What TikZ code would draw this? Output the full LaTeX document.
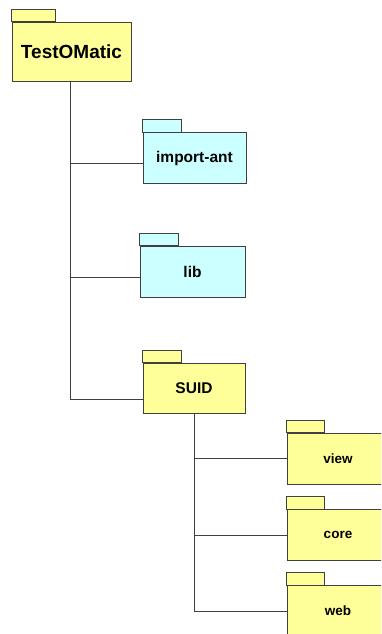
\documentclass[tikz,border=0pt]{standalone}
\usepackage{fontspec}
\setmainfont{Liberation Sans}
\usepackage{tikz}

\definecolor{pkgyellow}{HTML}{FFFF99}
\definecolor{pkgcyan}{HTML}{CCFFFF}
\definecolor{linegray}{HTML}{404040}

\tikzset{
  pkgbody/.style={draw=linegray, line width=0.9pt, inner sep=0pt, font=\bfseries},
  yellowpkg/.style={pkgbody, fill=pkgyellow},
  cyanpkg/.style={pkgbody, fill=pkgcyan},
  tree/.style={draw=linegray, line width=0.8pt}
}
% tab on top of a package body: node, width, fill
\newcommand{\pkgtab}[3]{\draw[draw=linegray, line width=0.9pt, fill=#3] (#1.north west) rectangle ++(#2,-12.5);}

\begin{document}
\begin{tikzpicture}[x=1pt, y=-1pt]
\clip (0,0) rectangle (381,634);
\fill[white] (0,0) rectangle (381,634);

% Root package
\node[yellowpkg, minimum width=119, minimum height=59, font=\bfseries\fontsize{19}{21}\selectfont] (top) at (71.5,51.5) {TestOMatic};
\pkgtab{top}{44}{pkgyellow}

% First level
\node[cyanpkg, minimum width=103, minimum height=51, font=\bfseries\fontsize{15.5}{18}\selectfont] (imp) at (194.5,158) {import-ant};
\pkgtab{imp}{39}{pkgcyan}
\node[cyanpkg, minimum width=105, minimum height=51, font=\bfseries\fontsize{15.5}{18}\selectfont] (lib) at (192.5,271.5) {lib};
\pkgtab{lib}{39}{pkgcyan}
\node[yellowpkg, minimum width=102, minimum height=50, font=\bfseries\fontsize{15.5}{18}\selectfont] (suid) at (194,388) {SUID};
\pkgtab{suid}{39}{pkgyellow}

% Second level
\foreach \name/\y in {view/458.5, core/535, web/611}
{
  \node[yellowpkg, minimum width=102, minimum height=51, font=\bfseries\fontsize{13.5}{16}\selectfont] (\name) at (338,\y) {\name};
  \pkgtab{\name}{38}{pkgyellow}
}

% Tree lines
\draw[tree] ([xshift=-1.5pt]top.south) |- ([yshift=-11pt]suid.west);
\draw[tree] ([xshift=-1.5pt]top.south) |- ([yshift=-5.5pt]imp.west);
\draw[tree] ([xshift=-1.5pt]top.south) |- ([yshift=-6pt]lib.west);
\foreach \name in {view, core, web}
  \draw[tree] (suid.south) |- (\name.west);

\end{tikzpicture}
\end{document}
